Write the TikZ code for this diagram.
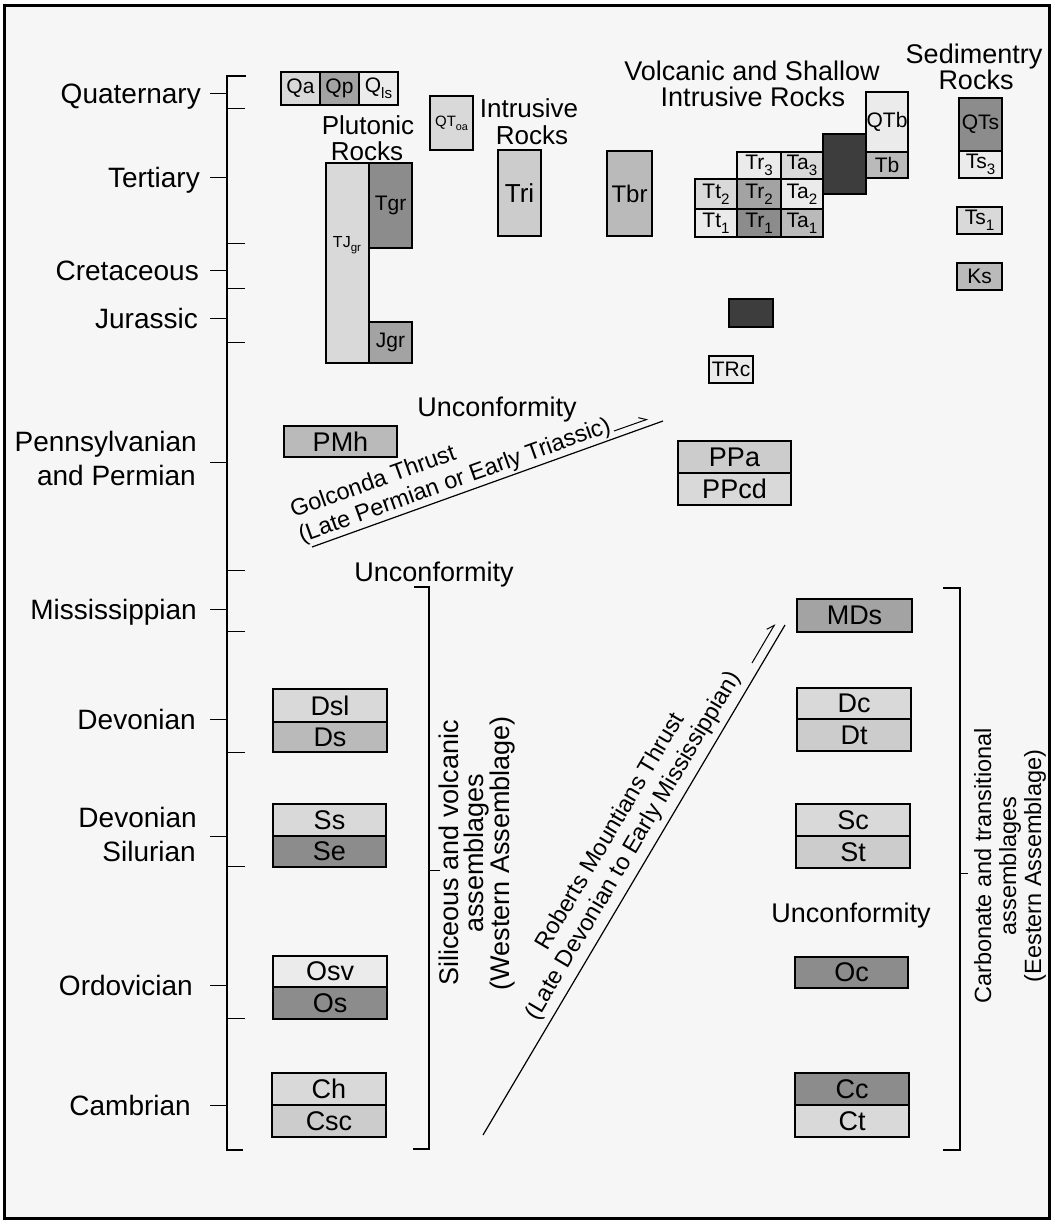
\documentclass[tikz,border=0pt]{standalone}
\usepackage{fontspec}
\setmainfont{Liberation Sans}
\usepackage{graphicx}
\usetikzlibrary{arrows.meta}
\newcommand\lo[1]{\raisebox{-0.28em}{\scalebox{0.72}{#1}}}
\newcommand\fs[1]{\fontsize{#1}{#1}\selectfont}
\definecolor{bgc}{gray}{0.965}
\definecolor{vl}{gray}{0.92}
\definecolor{lt}{gray}{0.85}
\definecolor{lm}{gray}{0.80}
\definecolor{md}{gray}{0.73}
\definecolor{mk}{gray}{0.64}
\definecolor{dk}{gray}{0.55}
\definecolor{vd}{gray}{0.24}
\begin{document}
\begin{tikzpicture}[x=1pt,y=-1pt,
 ubox/.style={draw=black,line width=1.2pt,inner sep=0pt,outer sep=0pt,anchor=north west,font=\fs{27}},
 sbox/.style={ubox,font=\fs{21}},
 per/.style={anchor=base east,font=\fs{28},inner sep=0pt},
 ttl/.style={font=\fs{26},inner sep=0pt,anchor=base},
 axisline/.style={line width=1.3pt},
 tickline/.style={line width=1pt},
 fault/.style={line width=1.2pt},
 harp/.style={line width=1pt,-{Straight Barb[harpoon,length=7pt,width=9pt]}},
 thr/.style={font=\fs{23.5},inner sep=0pt},
 vlab/.style={rotate=90,align=center,inner sep=0pt}
]
\useasboundingbox (0,0) rectangle (1056,1221);
\fill[white] (0,0) rectangle (1056,1221);
\fill[bgc] (4,5) rectangle (1049,1218);
\draw[line width=3pt] (4,5) rectangle (1049,1218);

% ---- time axis ----
\draw[axisline] (246,76) -- (227,76) -- (227,1150) -- (243,1150);
\foreach \y in {108,243,288,342,570,631,752,866,1018}
  \draw[tickline] (227,\y) -- (245,\y);
\foreach \y in {93,177,270,318,462,609,719,836,985,1105}
  \draw[tickline] (210,\y) -- (227,\y);

\node[per] (pQ) at (201,103) {Quaternary};
\node[per] (pT) at (200,187) {Tertiary};
\node[per] (pK) at (199,280) {Cretaceous};
\node[per] (pJ) at (198,328) {Jurassic};
\node[per] (pP1) at (197,451) {Pennsylvanian};
\node[per] (pP2) at (196,485) {and Permian};
\node[per] (pM) at (197,619) {Mississippian};
\node[per] (pD) at (196,729) {Devonian};
\node[per] (pDS1) at (197,827) {Devonian};
\node[per] (pDS2) at (196,861) {Silurian};
\node[per] (pO) at (193,995) {Ordovician};
\node[per] (pC) at (191,1115) {Cambrian};

% ---- titles ----
\node[ttl] (tPl1) at (368,134) {Plutonic};
\node[ttl] (tPl2) at (367,160) {Rocks};
\node[ttl] (tIn1) at (529,117) {Intrusive};
\node[ttl] (tIn2) at (532,144) {Rocks};
\node[ttl,font=\fs{27}] (tVo1) at (752,80) {Volcanic and Shallow};
\node[ttl,font=\fs{27}] (tVo2) at (753,106) {Intrusive Rocks};
\node[ttl,font=\fs{27}] (tSe1) at (974,63) {Sedimentry};
\node[ttl,font=\fs{27}] (tSe2) at (976,89) {Rocks};

% ---- upper units ----
\node[sbox,fill=lt,minimum width=39,minimum height=33] (Qa) at (281,72) {Qa};
\node[sbox,fill=mk,minimum width=39,minimum height=33] (Qp) at (320,72) {Qp};
\node[sbox,fill=vl,minimum width=39,minimum height=33] (Qls) at (359,72) {Q\lo{ls}};
\node[sbox,fill=lt,minimum width=43,minimum height=54,font=\fs{15}] (QToa) at (430,96) {QT\lo{oa}};
\node[sbox,fill=lt,minimum width=43,minimum height=200] (TJgr) at (326,163) {};
\node[font=\fs{16},inner sep=0pt] (TJgrL) at (347,245) {TJ\lo{gr}};
\node[sbox,fill=dk,minimum width=43,minimum height=85] (Tgr) at (369,163) {Tgr};
\node[sbox,fill=mk,minimum width=43,minimum height=41] (Jgr) at (369,322) {Jgr};
\node[sbox,fill=lm,minimum width=43,minimum height=86,font=\fs{26}] (Tri) at (498,150) {Tri};
\node[sbox,fill=md,minimum width=45,minimum height=85,font=\fs{24}] (Tbr) at (607,151) {Tbr};
\node[sbox,fill=lt,minimum width=42,minimum height=30] (Tt2) at (695,179) {Tt\lo{2}};
\node[sbox,fill=vl,minimum width=42,minimum height=28] (Tt1) at (695,209) {Tt\lo{1}};
\node[sbox,fill=vl,minimum width=44,minimum height=27] (Tr3) at (737,152) {Tr\lo{3}};
\node[sbox,fill=mk,minimum width=44,minimum height=30] (Tr2) at (737,179) {Tr\lo{2}};
\node[sbox,fill=dk,minimum width=44,minimum height=28] (Tr1) at (737,209) {Tr\lo{1}};
\node[sbox,fill=lt,minimum width=42,minimum height=27] (Ta3) at (781,152) {Ta\lo{3}};
\node[sbox,fill=vl,minimum width=42,minimum height=30] (Ta2) at (781,179) {Ta\lo{2}};
\node[sbox,fill=md,minimum width=42,minimum height=28] (Ta1) at (781,209) {Ta\lo{1}};
\node[sbox,fill=vd,minimum width=43,minimum height=60] (dark1) at (823,134) {};
\node[sbox,fill=vl,minimum width=42,minimum height=60] (QTb) at (866,92) {QTb};
\node[sbox,fill=md,minimum width=42,minimum height=26] (Tb) at (866,152) {Tb};
\node[sbox,fill=dk,minimum width=43,minimum height=53] (QTs) at (959,98) {QTs};
\node[sbox,fill=vl,minimum width=43,minimum height=27] (Ts3) at (959,151) {Ts\lo{3}};
\node[sbox,fill=lt,minimum width=45,minimum height=27] (Ts1) at (957,207) {Ts\lo{1}};
\node[sbox,fill=md,minimum width=45,minimum height=27] (Ks) at (957,263) {Ks};
\node[sbox,fill=vd,minimum width=44,minimum height=28] (dark2) at (729,299) {};
\node[sbox,fill=vl,minimum width=44,minimum height=27] (TRc) at (709,356) {TRc};

% ---- Golconda ----
\node[ubox,fill=md,minimum width=113,minimum height=31] (PMh) at (284,426) {PMh};
\node[ubox,fill=lm,minimum width=113,minimum height=32] (PPa) at (678,441) {PPa};
\node[ubox,fill=lt,minimum width=113,minimum height=32] (PPcd) at (678,473) {PPcd};
\node[font=\fs{27},inner sep=0pt,anchor=base] (unc1) at (497,416) {Unconformity};
\coordinate (g1) at (312,547);
\coordinate (g2) at (663,421);
\draw[fault] (g1) -- (g2);
\coordinate (gh1) at (614,431);
\coordinate (gh2) at (648,419);
\draw[harp] (gh1) -- (gh2);
\node[thr,rotate=19.75,anchor=base west] (gol1) at (293.5,518) {Golconda Thrust};
\node[thr,rotate=19.75,anchor=base west] (gol2) at (301.6,543) {(Late Permian or Early Triassic)};

% ---- western assemblage ----
\node[font=\fs{27},inner sep=0pt,anchor=base] (unc2) at (434,581) {Unconformity};
\node[ubox,fill=lt,minimum width=114,minimum height=33] (Dsl) at (273,689) {Dsl};
\node[ubox,fill=md,minimum width=114,minimum height=30] (Ds) at (273,722) {Ds};
\node[ubox,fill=lt,minimum width=113,minimum height=32] (Ss) at (273,804) {Ss};
\node[ubox,fill=dk,minimum width=113,minimum height=31] (Se) at (273,836) {Se};
\node[ubox,fill=vl,minimum width=114,minimum height=31] (Osv) at (273,956) {Osv};
\node[ubox,fill=dk,minimum width=114,minimum height=32] (Os) at (273,987) {Os};
\node[ubox,fill=lt,minimum width=114,minimum height=32] (Ch) at (272,1073) {Ch};
\node[ubox,fill=lm,minimum width=114,minimum height=32] (Csc) at (272,1105) {Csc};
\draw[axisline] (414,587) -- (429,587) -- (429,1149) -- (413,1149);
\draw[tickline] (429,870) -- (440,870);
\node[vlab,font={\fontsize{27}{25.5}\selectfont}] (west) at (477,853) {Siliceous and volcanic\\assemblages\\(Western Assemblage)};

% ---- Roberts Mountains ----
\coordinate (r1) at (483,1135);
\coordinate (r2) at (785,625);
\draw[fault] (r1) -- (r2);
\coordinate (rh1) at (752,663);
\coordinate (rh2) at (775,624);
\draw[harp] (rh1) -- (rh2);
\node[thr,rotate=59.4,anchor=base] (rob1) at (616,835) {Roberts Mountians Thrust};
\node[thr,rotate=59.4,anchor=base] (rob2) at (639,849) {(Late Devonian to Early Mississippian)};

% ---- eastern assemblage ----
\node[ubox,fill=mk,minimum width=115,minimum height=33] (MDs) at (797,599) {MDs};
\node[ubox,fill=lt,minimum width=114,minimum height=31] (Dc) at (797,688) {Dc};
\node[ubox,fill=lm,minimum width=114,minimum height=32] (Dt) at (797,719) {Dt};
\node[ubox,fill=lt,minimum width=114,minimum height=32] (Sc) at (796,804) {Sc};
\node[ubox,fill=lm,minimum width=114,minimum height=32] (St) at (796,836) {St};
\node[font=\fs{27},inner sep=0pt,anchor=base] (unc3) at (851,922) {Unconformity};
\node[ubox,fill=dk,minimum width=113,minimum height=31] (Oc) at (795,957) {Oc};
\node[ubox,fill=dk,minimum width=114,minimum height=32] (Cc) at (795,1073) {Cc};
\node[ubox,fill=lt,minimum width=114,minimum height=32] (Ct) at (795,1105) {Ct};
\draw[axisline] (943,588) -- (960,588) -- (960,1150) -- (943,1150);
\draw[tickline] (960,873) -- (968,873);
\node[vlab,font={\fontsize{23.5}{25}\selectfont}] (east) at (1010,866) {Carbonate and transitional\\assemblages\\(Eestern Assemblage)};
\end{tikzpicture}
\end{document}
